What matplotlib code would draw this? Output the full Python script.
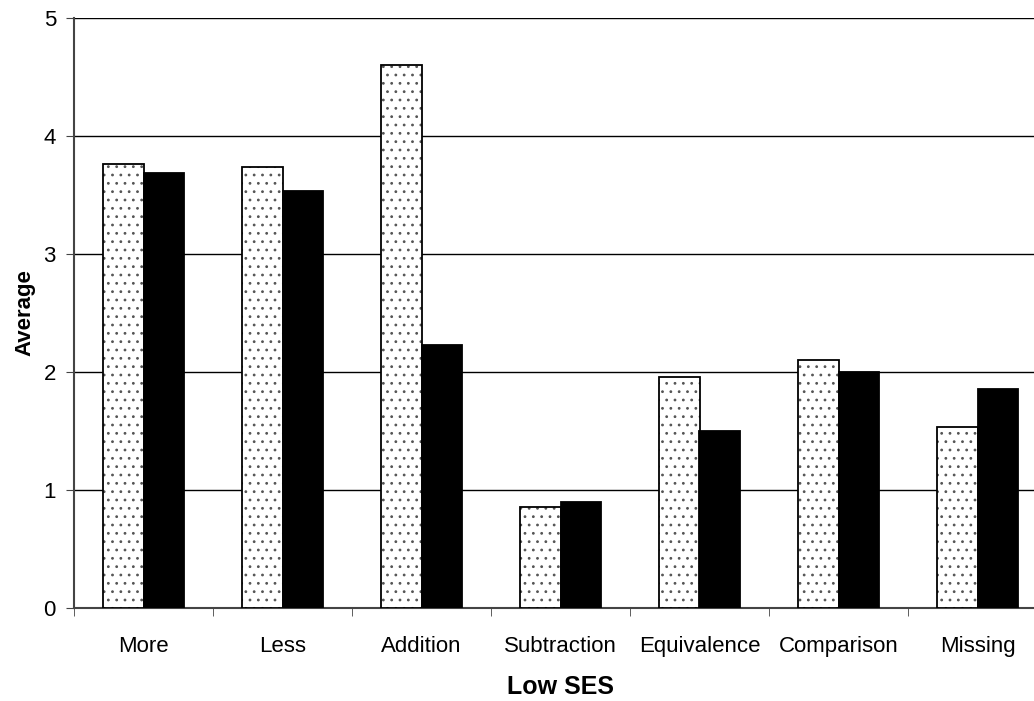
import numpy as np
import matplotlib
matplotlib.use("Agg")
from matplotlib import pyplot as plt

categories = ["More", "Less", "Addition", "Subtraction", "Equivalence", "Comparison", "Missing"]
dotted_vals = [3.76, 3.74, 4.60, 0.86, 1.96, 2.10, 1.53]
black_vals = [3.69, 3.53, 2.23, 0.90, 1.50, 2.00, 1.86]


def main():
    plt.rcParams["font.family"] = ["Liberation Sans", "DejaVu Sans"]
    plt.rcParams["hatch.linewidth"] = 0.8

    fig = plt.figure(figsize=(10.34, 7.01), dpi=100)
    ax = fig.add_axes([74 / 1034, 93 / 701, 973 / 1034, 590 / 701])

    x = np.arange(len(categories))
    w = 0.29
    # dotted fill (gray dots), then black outline on top
    ax.bar(x - w / 2, dotted_vals, w, color="white", edgecolor="#555555",
           hatch="..", linewidth=0, zorder=3)
    ax.bar(x - w / 2, dotted_vals, w, fill=False, edgecolor="black",
           linewidth=1.3, zorder=4)
    ax.bar(x + w / 2, black_vals, w, color="black", edgecolor="black",
           linewidth=1.3, zorder=4)

    ax.set_xlim(-0.5, len(categories) - 0.5)
    ax.set_ylim(0, 5)
    ax.set_yticks([0, 1, 2, 3, 4, 5])
    ax.yaxis.grid(True, color="black", linewidth=1.0, zorder=0)
    ax.set_axisbelow(True)

    ax.set_xticks(x)
    ax.set_xticklabels(categories, fontsize=16)
    ax.set_xticks(np.arange(len(categories) + 1) - 0.5, minor=True)
    ax.tick_params(axis="x", which="major", length=0, pad=20)
    ax.tick_params(axis="x", which="minor", length=6, direction="out", color="#444444")
    ax.tick_params(axis="y", labelsize=16, length=6, direction="out", color="#444444", pad=7)

    for s in ["top", "right"]:
        ax.spines[s].set_visible(False)
    for s in ["left", "bottom"]:
        ax.spines[s].set_color("#444444")
        ax.spines[s].set_linewidth(1.5)

    ax.set_xlabel("Low SES", fontsize=18, fontweight="bold", labelpad=13)
    ax.set_ylabel("Average", fontsize=16, fontweight="bold", labelpad=6)

    fig.savefig("out.png", dpi=100)


if __name__ == "__main__":
    main()
